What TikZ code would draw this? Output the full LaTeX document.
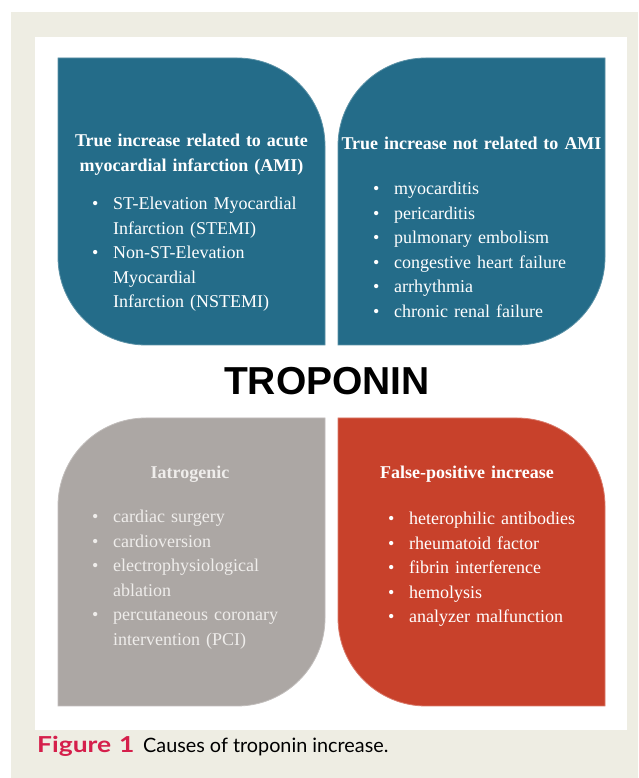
\documentclass[tikz,border=0pt]{standalone}
\usepackage{fontspec}
\setmainfont{Liberation Serif}
\newfontfamily\sansbold{Liberation Sans}
\newfontfamily\capfont{Lato}
\newfontfamily\figfont{Lato}[FakeStretch=1.2]
\definecolor{beige}{HTML}{EEEDE3}
\definecolor{petal}{HTML}{246C89}
\definecolor{stone}{HTML}{ACA7A4}
\definecolor{brick}{HTML}{C8412B}
\definecolor{capred}{HTML}{D51F4B}
\definecolor{pale}{HTML}{EFEDEB}
\newcommand\bulfirst{\noindent\hangindent=21pt\hangafter=1\makebox[21pt][l]{\textbullet}}
\newcommand\bul{\par\bulfirst}
\begin{document}
\begin{tikzpicture}[x=1pt,y=1pt,
  headtxt/.style={font=\bfseries\fontsize{18}{24.4}\selectfont, text=white, inner sep=0pt,
    text width=280pt, align=center, anchor=base},
  listtxt/.style={font=\fontsize{18}{24.6}\selectfont, text=white, inner sep=0pt,
    text width=240pt, anchor=base west},
  leaf/.style={line width=0.8pt}]
\useasboundingbox (0,0) rectangle (638,778);
\fill[white] (0,0) rectangle (638,778);
\fill[beige] (11,0) rectangle (638,766);
\fill[white] (35,48) rectangle (627,741);
% top-left leaf
\filldraw[leaf, fill=petal, draw=petal!75!white]
  (58,720) -- (237,720) arc[start angle=90, end angle=0, radius=88pt]
  -- (325,433) -- (146,433) arc[start angle=270, end angle=180, radius=88pt] -- cycle;
% top-right leaf
\filldraw[leaf, fill=petal, draw=petal!75!white]
  (338,433) -- (338,632) arc[start angle=180, end angle=90, radius=88pt]
  -- (605,720) -- (605,521) arc[start angle=0, end angle=-90, radius=88pt] -- cycle;
% bottom-left leaf
\filldraw[leaf, fill=stone, draw=stone!75!white]
  (58,72) -- (58,272) arc[start angle=180, end angle=90, radius=88pt]
  -- (325,360) -- (325,160) arc[start angle=0, end angle=-90, radius=88pt] -- cycle;
% bottom-right leaf
\filldraw[leaf, fill=brick, draw=brick!70!white]
  (338,360) -- (517,360) arc[start angle=90, end angle=0, radius=88pt]
  -- (605,72) -- (426,72) arc[start angle=270, end angle=180, radius=88pt] -- cycle;

\node[headtxt] (h1) at (191.5,631) {True increase related to acute\\myocardial infarction (AMI)};
\node[listtxt] (l1) at (92,568.5) {\bulfirst ST-Elevation Myocardial\newline Infarction (STEMI)\bul Non-ST-Elevation\newline Myocardial\newline Infarction (NSTEMI)\par};

\node[headtxt] (h2) at (471.5,628.5) {True increase not related to AMI};
\node[listtxt] (l2) at (373,583.5) {\bulfirst myocarditis\bul pericarditis\bul pulmonary embolism\bul congestive heart failure\bul arrhythmia\bul chronic renal failure\par};

\node[font=\sansbold\bfseries\fontsize{39}{40}\selectfont, inner sep=0pt, anchor=base] (tro) at (327,383) {TROPONIN};

\node[headtxt, text=pale] (h3) at (190,299) {Iatrogenic};
\node[listtxt, text=pale] (l3) at (92,255.5) {\bulfirst cardiac surgery\bul cardioversion\bul electrophysiological\newline ablation\bul percutaneous coronary\newline intervention (PCI)\par};

\node[headtxt] (h4) at (467,299.5) {False-positive increase};
\node[listtxt] (l4) at (388,253.5) {\bulfirst heterophilic antibodies\bul rheumatoid factor\bul fibrin interference\bul hemolysis\bul analyzer malfunction\par};

\node[font=\figfont\bfseries\fontsize{22}{24}\selectfont, text=capred, inner sep=0pt, anchor=base west] (fig) at (37,25) {Figure\hspace{8pt}1};
\node[font=\capfont\fontsize{19.8}{22}\selectfont, text=black, inner sep=0pt, anchor=base west] (cap) at (143,25) {Causes of troponin increase.};
\end{tikzpicture}
\end{document}
